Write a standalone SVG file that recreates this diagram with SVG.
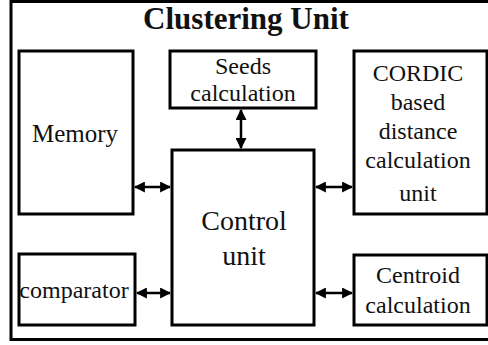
<svg xmlns="http://www.w3.org/2000/svg" width="488" height="345" viewBox="0 0 488 345">
<defs>
<style>
.box{fill:#fff;stroke:#000;stroke-width:3}
.t{font-family:'Liberation Serif','Times New Roman',serif;fill:#111;text-anchor:middle;font-size:24px}
.c{stroke:#000;stroke-width:2.5;fill:none;marker-start:url(#ah);marker-end:url(#ah)}
</style>
<marker id="ah" viewBox="0 0 10 10" refX="9" refY="5" markerWidth="4.4" markerHeight="4.4" orient="auto-start-reverse" markerUnits="strokeWidth">
<path d="M0,0 L10,5 L0,10 z" fill="#000"/>
</marker>
</defs>
<rect x="0" y="0" width="488" height="345" fill="#fff"/>
<rect id="frame" x="11" y="1.5" width="480" height="338" fill="none" stroke="#000" stroke-width="3"/>
<text class="t" x="246" y="29" style="font-size:31px;font-weight:bold">Clustering Unit</text>
<g id="memory"><rect class="box" x="19" y="51" width="114" height="163"/><text class="t" x="75" y="142" style="font-size:25px">Memory</text></g>
<g id="seeds"><rect class="box" x="170" y="51" width="146" height="57"/><text class="t" x="243" y="74">Seeds</text><text class="t" x="243" y="101">calculation</text></g>
<g id="cordic"><rect class="box" x="354" y="51" width="133" height="163"/><text class="t" x="418" y="81">CORDIC</text><text class="t" x="418" y="110">based</text><text class="t" x="418" y="139">distance</text><text class="t" x="418" y="168">calculation</text><text class="t" x="418" y="201">unit</text></g>
<g id="control"><rect class="box" x="172" y="150" width="142" height="175"/><text class="t" x="244" y="230" style="font-size:28px">Control</text><text class="t" x="244" y="265" style="font-size:28px">unit</text></g>
<g id="comparator"><rect class="box" x="19" y="254" width="116" height="71"/><text class="t" x="74" y="298">comparator</text></g>
<g id="centroid"><rect class="box" x="354" y="255" width="133" height="70"/><text class="t" x="418" y="283">Centroid</text><text class="t" x="418" y="313">calculation</text></g>
<g id="connectors">
<line class="c" x1="135" y1="187" x2="170" y2="187"/>
<line class="c" x1="137" y1="293" x2="170" y2="293"/>
<line class="c" x1="316" y1="187" x2="352" y2="187"/>
<line class="c" x1="316" y1="293" x2="352" y2="293"/>
<line class="c" x1="241" y1="110" x2="241" y2="148"/>
</g>
</svg>
